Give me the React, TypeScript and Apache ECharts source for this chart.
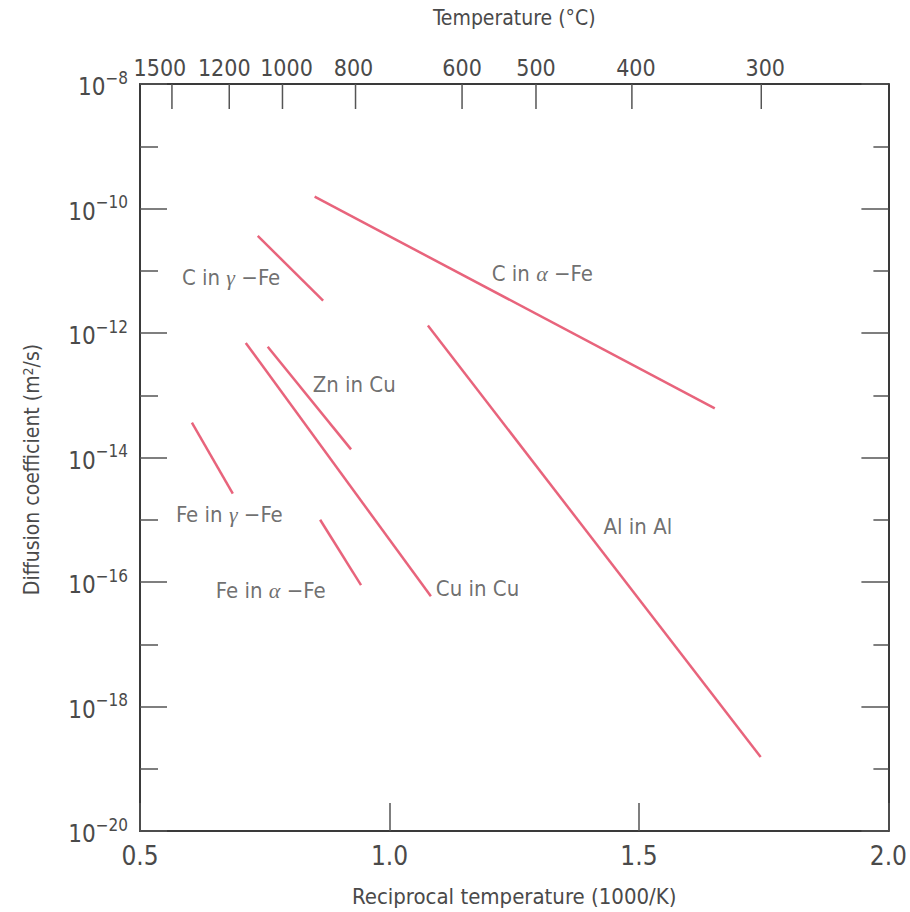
import React, { useEffect, useRef } from "react";
import * as echarts from "echarts";

// log10 of diffusion coefficient (m^2/s) vs reciprocal temperature (1000/K)
const seriesNames = ["C in α-Fe", "C in γ-Fe", "Zn in Cu", "Cu in Cu", "Al in Al", "Fe in γ-Fe", "Fe in α-Fe"];
const cInAlphaFe = [[0.85, -9.81], [1.652, -13.21]];
const cInGammaFe = [[0.736, -10.44], [0.867, -11.48]];
const znInCu = [[0.756, -12.22], [0.923, -13.87]];
const cuInCu = [[0.712, -12.16], [1.083, -16.23]];
const alInAl = [[1.077, -11.88], [1.744, -18.81]];
const feInGammaFe = [[0.604, -13.44], [0.686, -14.58]];
const feInAlphaFe = [[0.861, -15.0], [0.943, -16.05]];
const seriesData = [cInAlphaFe, cInGammaFe, znInCu, cuInCu, alInAl, feInGammaFe, feInAlphaFe];

// label anchors (data space) and label text pieces [prefix, greek, suffix]
const labelAnchors = [[1.205, -11.05], [0.584, -11.11], [0.846, -12.83], [1.093, -16.11], [1.429, -15.11], [0.572, -14.91], [0.652, -16.13]];
const labelParts = [["C in ", "α", " −Fe"], ["C in ", "γ", " −Fe"], ["Zn in Cu", "", ""], ["Cu in Cu", "", ""], ["Al in Al", "", ""], ["Fe in ", "γ", " −Fe"], ["Fe in ", "α", " −Fe"]];

// top axis temperatures (°C)
const topTemps = [1500, 1200, 1000, 800, 600, 500, 400, 300];
const topValues = topTemps.map((t) => 1000 / (t + 273));
const topLabelShift = [-12, -5, 4, -2, 0, 0, 4, 4];

const FONT = "'Liberation Sans Narrow', 'DejaVu Sans Condensed', 'Liberation Sans', Arial, sans-serif";
const TXT = "#4a4a4a";
const AX = "#3a3a3a";
const TICK = "#555";
const LINE = "#e8647c";

export default function App() {
  const ref = useRef<HTMLDivElement>(null);
  useEffect(() => {
    if (!ref.current) return;
    const chart = echarts.init(ref.current, null, { renderer: "svg" });
    const lineSeries = seriesData.map((d, i) => ({
      name: seriesNames[i],
      type: "line",
      xAxisIndex: 0,
      yAxisIndex: 0,
      data: d,
      symbol: "none",
      lineStyle: { color: LINE, width: 2.5 },
      silent: true,
    }));
    const labelSeries = {
      type: "scatter",
      xAxisIndex: 0,
      yAxisIndex: 0,
      symbolSize: 0,
      silent: true,
      data: labelAnchors.map((p, i) => ({
        value: p,
        label: {
          formatter: labelParts[i][1]
            ? `{n|${labelParts[i][0]}}{g|${labelParts[i][1]}}{n|${labelParts[i][2]}}`
            : `{n|${labelParts[i][0]}}`,
        },
      })),
      label: {
        show: true,
        position: "right",
        distance: 0,
        align: "left",
        verticalAlign: "middle",
        rich: {
          n: { fontFamily: FONT, fontSize: 22, color: TXT },
          g: { fontFamily: "'Liberation Serif', 'DejaVu Serif', serif", fontStyle: "italic", fontSize: 22, color: TXT },
        },
      },
    };
    const topAxisSeries = {
      type: "custom",
      xAxisIndex: 1,
      yAxisIndex: 0,
      silent: true,
      clip: false,
      data: topValues.map((v, i) => [v, topTemps[i]]),
      renderItem: (params: any, api: any) => {
        const p = api.coord([api.value(0), -8]);
        const shift = topLabelShift[params.dataIndex] || 0;
        return {
          type: "group",
          children: [
            {
              type: "line",
              shape: { x1: p[0], y1: p[1], x2: p[0], y2: p[1] + 25 },
              style: { stroke: TICK, lineWidth: 1.5 },
            },
            {
              type: "text",
              x: p[0] + shift,
              y: p[1] - 5,
              style: {
                text: String(api.value(1)),
                align: "center",
                verticalAlign: "bottom",
                fontFamily: FONT,
                fontSize: 23,
                fill: TXT,
              },
            },
          ],
        };
      },
    };
    const yLabel = (v: number) => `{b|10}{s|−${Math.abs(v)}}`;
    const option = {
      animation: false,
      backgroundColor: "#ffffff",
      grid: { left: 140, top: 84, right: 21, bottom: 80, containLabel: false },
      xAxis: [
        {
          type: "value",
          position: "bottom",
          min: 0.5,
          max: 2.0,
          interval: 0.5,
          name: "Reciprocal temperature (1000/K)",
          nameLocation: "middle",
          nameGap: 54,
          nameTextStyle: { fontFamily: FONT, fontSize: 22, color: TXT },
          axisLine: { show: true, lineStyle: { color: AX, width: 2 } },
          axisTick: { show: true, inside: true, length: 28, lineStyle: { color: TICK, width: 1.5 } },
          axisLabel: { fontFamily: FONT, fontSize: 26, color: TXT, margin: 12, formatter: (v: number) => v.toFixed(1) },
          splitLine: { show: false },
        },
        {
          type: "value",
          position: "top",
          min: 0.5,
          max: 2.0,
          name: "Temperature (°C)",
          nameLocation: "middle",
          nameGap: 56,
          nameTextStyle: { fontFamily: FONT, fontSize: 21, color: TXT },
          axisLine: { show: true, lineStyle: { color: AX, width: 2 } },
          axisTick: { show: false },
          axisLabel: { show: false },
          splitLine: { show: false },
        },
      ],
      yAxis: [
        {
          type: "value",
          position: "left",
          min: -20,
          max: -8,
          interval: 2,
          name: "Diffusion coefficient (m{sup|2}/s)",
          nameLocation: "middle",
          nameGap: 98,
          nameRotate: 90,
          nameTextStyle: {
            fontFamily: FONT,
            fontSize: 21,
            color: TXT,
            padding: [0, 24, 0, 0],
            rich: { sup: { fontFamily: FONT, fontSize: 14, color: TXT, verticalAlign: "top" } },
          },
          axisLine: { show: true, lineStyle: { color: AX, width: 2 } },
          axisTick: { show: true, inside: true, length: 27, lineStyle: { color: TICK, width: 1.5 } },
          minorTick: { show: true, splitNumber: 2, length: 18, lineStyle: { color: TICK, width: 1.5 } },
          axisLabel: {
            margin: 12,
            formatter: yLabel,
            rich: {
              b: { fontFamily: FONT, fontSize: 24, color: TXT, lineHeight: 30, verticalAlign: "bottom" },
              s: { fontFamily: FONT, fontSize: 17, color: TXT, verticalAlign: "top" },
            },
          },
          splitLine: { show: false },
          minorSplitLine: { show: false },
        },
        {
          type: "value",
          position: "right",
          min: -20,
          max: -8,
          interval: 2,
          axisLine: { show: true, lineStyle: { color: AX, width: 2 } },
          axisTick: { show: true, inside: true, length: 27, lineStyle: { color: TICK, width: 1.5 } },
          minorTick: { show: true, splitNumber: 2, length: 15, lineStyle: { color: TICK, width: 1.5 } },
          axisLabel: { show: false },
          splitLine: { show: false },
          minorSplitLine: { show: false },
        },
      ],
      series: [...lineSeries, labelSeries, topAxisSeries],
    };
    chart.setOption(option as any);
    return () => chart.dispose();
  }, []);
  return (
    <div
      ref={ref}
      style={{ position: "absolute", left: 0, top: 0, width: 910, height: 912 }}
    />
  );
}
